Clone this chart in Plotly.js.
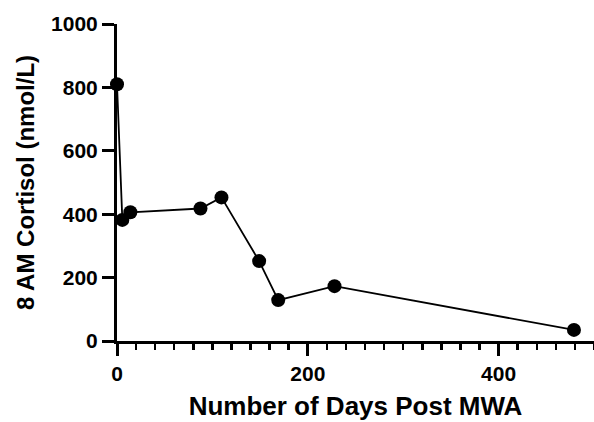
<!DOCTYPE html>
<html>
<head>
<meta charset="utf-8">
<script src="https://cdn.plot.ly/plotly-3.0.1.min.js"></script>
<style>html,body{margin:0;padding:0;background:#fff;}#chart{width:594px;height:422px;}</style>
</head>
<body>
<div id="chart"></div>
<script>
const days = [0, 5.6, 14, 87.5, 109.5, 149, 169, 228, 479];
const cortisol = [810, 382, 406, 418, 453, 252, 129, 173, 35];
const xTickVals = [0, 200, 400];
const yTickVals = [0, 200, 400, 600, 800, 1000];
const xTitle = "Number of Days Post MWA";
const yTitle = "8 AM Cortisol (nmol/L)";

const font = "Liberation Sans, Arial, sans-serif";
const trace = {
  x: days, y: cortisol, type: "scatter", mode: "lines+markers",
  line: {color: "#000", width: 1.8},
  marker: {color: "#000", size: 14},
  cliponaxis: false, showlegend: false
};
const layout = {
  width: 594, height: 422,
  margin: {l: 117, r: 0, t: 24, b: 81},
  paper_bgcolor: "#fff", plot_bgcolor: "#fff",
  font: {family: font, color: "#000"},
  xaxis: {
    range: [0, 500], tickvals: xTickVals, ticktext: xTickVals.map(v => "<b>" + v + "</b>"),
    showgrid: false, zeroline: false, showline: true, linewidth: 3, linecolor: "#000",
    ticks: "outside", ticklen: 12, tickwidth: 3, tickcolor: "#000",
    minor: {dtick: 20, tick0: 0, ticks: "outside", ticklen: 6, tickwidth: 2.5, tickcolor: "#000", showgrid: false},
    tickfont: {size: 21, family: font},
    title: {text: "<b>" + xTitle + "</b>", font: {size: 26, family: font}, standoff: 13},
    fixedrange: true
  },
  yaxis: {
    range: [0, 1000], tickvals: yTickVals, ticktext: yTickVals.map(v => "<b>" + v + "</b>"),
    showgrid: false, zeroline: false, showline: true, linewidth: 3, linecolor: "#000",
    ticks: "outside", ticklen: 12, tickwidth: 3, tickcolor: "#000",
    tickfont: {size: 21, family: font},
    title: {text: "<b>" + yTitle + "</b>", font: {size: 24, family: font}, standoff: 10},
    fixedrange: true
  }
};
Plotly.newPlot("chart", [trace], layout, {displayModeBar: false, staticPlot: true});
</script>
</body>
</html>
